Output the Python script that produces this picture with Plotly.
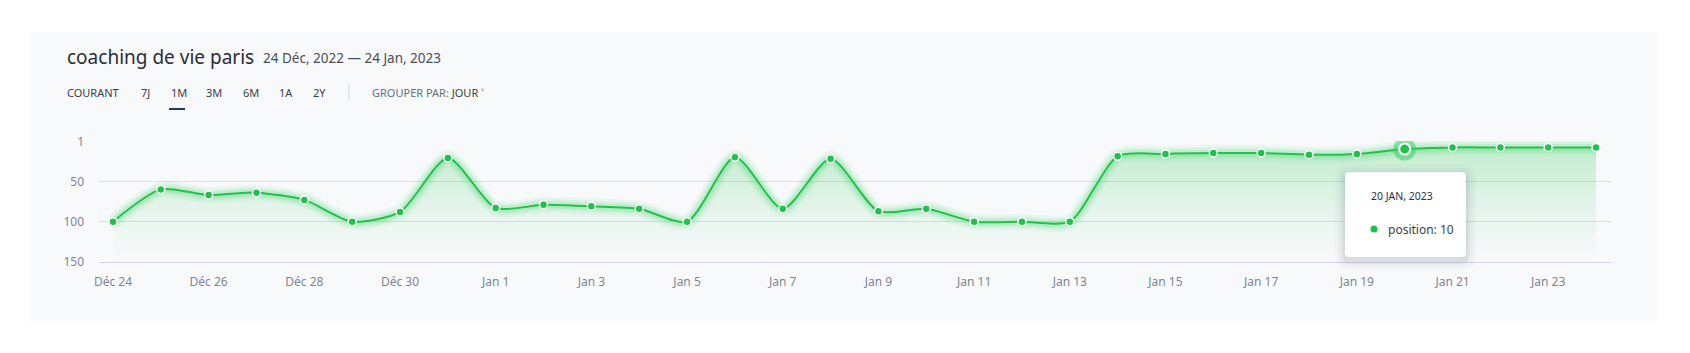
import plotly.graph_objects as go

# ---------------- data ----------------
dates = ["2022-12-24", "2022-12-25", "2022-12-26", "2022-12-27", "2022-12-28", "2022-12-29",
         "2022-12-30", "2022-12-31", "2023-01-01", "2023-01-02", "2023-01-03", "2023-01-04",
         "2023-01-05", "2023-01-06", "2023-01-07", "2023-01-08", "2023-01-09", "2023-01-10",
         "2023-01-11", "2023-01-12", "2023-01-13", "2023-01-14", "2023-01-15", "2023-01-16",
         "2023-01-17", "2023-01-18", "2023-01-19", "2023-01-20", "2023-01-21", "2023-01-22",
         "2023-01-23", "2023-01-24"]
positions = [100, 60, 67, 64, 73, 100, 88, 21,
             83, 79, 81, 84, 100, 20, 84, 22, 87, 84, 100, 100, 100,
             19, 16, 15, 15, 17, 16, 10, 8, 8, 8, 8]
tick_dates = ["2022-12-24", "2022-12-26", "2022-12-28", "2022-12-30", "2023-01-01", "2023-01-03",
              "2023-01-05", "2023-01-07", "2023-01-09", "2023-01-11", "2023-01-13", "2023-01-15",
              "2023-01-17", "2023-01-19", "2023-01-21", "2023-01-23"]
tick_labels = ["Déc 24", "Déc 26", "Déc 28", "Déc 30", "Jan 1", "Jan 3", "Jan 5", "Jan 7",
               "Jan 9", "Jan 11", "Jan 13", "Jan 15", "Jan 17", "Jan 19", "Jan 21", "Jan 23"]
y_ticks = [1, 50, 100, 150]
y_tick_labels = ["1", "50", "100", "150"]
highlight_date = "2023-01-20"
highlight_value = 10
title = "coaching de vie paris"
date_range_text = "24 Déc, 2022 — 24 Jan, 2023"
buttons = ["COURANT", "7J", "1M", "3M", "6M", "1A", "2Y"]

# ---------------- geometry / style ----------------
W, H = 1690, 353
PL, PR, PT, PB = 99, 1611, 141, 262
FONT = "Noto Sans"
GREEN = "#1fc34b"
SMOOTH = 0.7


def px(x):
    return (x - PL) / (PR - PL)


def py(y):
    return (PB - y) / (PB - PT)


fig = go.Figure()

baseline = [150] * len(dates)
fig.add_trace(go.Scatter(x=dates, y=baseline, mode="lines", line=dict(width=0),
                         hoverinfo="skip", showlegend=False))
fig.add_trace(go.Scatter(
    x=dates, y=positions, mode="lines", line=dict(width=0, shape="spline", smoothing=SMOOTH),
    fill="tonexty",
    fillgradient=dict(type="vertical", start=0, stop=150,
                      colorscale=[[0, "rgba(40,200,80,0.28)"], [0.6, "rgba(40,200,80,0.08)"],
                                  [1, "rgba(40,200,80,0.0)"]]),
    hoverinfo="skip", showlegend=False))

for w, a in [(16, 0.07), (11, 0.10), (7, 0.15)]:
    fig.add_trace(go.Scatter(x=dates, y=positions, mode="lines",
                             line=dict(width=w, color=f"rgba(60,210,100,{a})", shape="spline", smoothing=SMOOTH),
                             hoverinfo="skip", showlegend=False))

fig.add_trace(go.Scatter(x=dates, y=positions, mode="lines+markers",
                         line=dict(width=2, color=GREEN, shape="spline", smoothing=SMOOTH),
                         marker=dict(size=8, color=GREEN, line=dict(width=1.5, color="white")),
                         hoverinfo="skip", showlegend=False))

# highlighted point
fig.add_trace(go.Scatter(x=[highlight_date], y=[highlight_value], mode="markers",
                         marker=dict(size=23, color="rgba(60,205,100,0.55)", line=dict(width=0)),
                         hoverinfo="skip", showlegend=False))
fig.add_trace(go.Scatter(x=[highlight_date], y=[highlight_value], mode="markers",
                         marker=dict(size=11, color=GREEN, line=dict(width=2, color="white")),
                         hoverinfo="skip", showlegend=False))

shapes = []
# card background
shapes.append(dict(type="rect", xref="paper", yref="paper", x0=px(30), x1=px(1657),
                   y0=py(321), y1=py(32), fillcolor="#f8f9fb", line=dict(width=0), layer="below"))
# tab underline
shapes.append(dict(type="rect", xref="paper", yref="paper", x0=px(169), x1=px(185),
                   y0=py(110), y1=py(108), fillcolor="#1c3a6e", line=dict(width=0)))
# divider
shapes.append(dict(type="line", xref="paper", yref="paper", x0=px(349), x1=px(349),
                   y0=py(101), y1=py(83), line=dict(color="#d5d9e0", width=1)))


# tooltip shadow + box
def rounded(x0, y0, x1, y1, r):
    X0, X1 = px(x0), px(x1)
    Y0, Y1 = py(y1), py(y0)
    rx = r / (PR - PL)
    ry = r / (PB - PT)
    return (f"M {X0+rx},{Y0} L {X1-rx},{Y0} Q {X1},{Y0} {X1},{Y0+ry} L {X1},{Y1-ry} "
            f"Q {X1},{Y1} {X1-rx},{Y1} L {X0+rx},{Y1} Q {X0},{Y1} {X0},{Y1-ry} "
            f"L {X0},{Y0+ry} Q {X0},{Y0} {X0+rx},{Y0} Z")


for g, a in [(10, 0.025), (7, 0.03), (4, 0.04), (2, 0.05)]:
    shapes.append(dict(type="path", xref="paper", yref="paper",
                       path=rounded(1345 - g, 172 - g + 3, 1466 + g, 257 + g + 3, 4 + g),
                       fillcolor=f"rgba(40,50,80,{a})", line=dict(width=0)))
shapes.append(dict(type="path", xref="paper", yref="paper", path=rounded(1345, 172, 1466, 257, 4),
                   fillcolor="white", line=dict(width=0)))
shapes.append(dict(type="circle", xref="paper", yref="paper", x0=px(1370.5), x1=px(1377.5),
                   y0=py(232.5), y1=py(225.5), fillcolor=GREEN, line=dict(width=0)))

annotations = []
annotations.append(dict(xref="paper", yref="paper", x=px(65), y=py(57), xanchor="left", yanchor="middle",
                        text=title, showarrow=False, font=dict(family=FONT, size=19, color="#2a2e35")))
annotations.append(dict(xref="paper", yref="paper", x=px(261), y=py(58), xanchor="left", yanchor="middle",
                        text=date_range_text, showarrow=False, font=dict(family=FONT, size=13.5, color="#4a4f57")))
btn_x = [65, 139, 169, 204, 241, 277, 311]
for b, bx in zip(buttons, btn_x):
    annotations.append(dict(xref="paper", yref="paper", x=px(bx), y=py(92), xanchor="left", yanchor="middle",
                            text=b, showarrow=False, font=dict(family=FONT, size=11, color="#3a3f47")))
annotations.append(dict(xref="paper", yref="paper", x=px(370), y=py(92), xanchor="left", yanchor="middle",
                        text="<span style='color:#66717f'>GROUPER PAR:</span> JOUR ˅", showarrow=False,
                        font=dict(family=FONT, size=11, color="#3a3f47")))
annotations.append(dict(xref="paper", yref="paper", x=px(1369), y=py(196), xanchor="left", yanchor="middle",
                        text="20 JAN, 2023", showarrow=False, font=dict(family=FONT, size=10.5, color="#2f333a")))
annotations.append(dict(xref="paper", yref="paper", x=px(1386), y=py(229.5), xanchor="left", yanchor="middle",
                        text="position: 10", showarrow=False, font=dict(family=FONT, size=12, color="#3c4149")))

fig.update_layout(
    width=W, height=H,
    margin=dict(l=PL, r=W - PR, t=PT, b=H - PB),
    paper_bgcolor="white", plot_bgcolor="rgba(0,0,0,0)",
    shapes=shapes, annotations=annotations,
    font=dict(family=FONT),
    hovermode=False,
)
fig.update_xaxes(type="date", range=["2022-12-23 17:00", "2023-01-24 07:30"],
                 tickvals=tick_dates, ticktext=tick_labels, showgrid=False, zeroline=False,
                 showline=True, linecolor="#d3d7e3", linewidth=1, ticks="",
                 ticklabelstandoff=9, tickfont=dict(family=FONT, size=12, color="#7d8794"))
fig.update_yaxes(range=[150, 0], tickvals=y_ticks, ticktext=y_tick_labels, showgrid=True,
                 gridcolor="#dcdfe5", gridwidth=1, zeroline=False, showline=False, ticks="",
                 ticklabelstandoff=14, tickfont=dict(family=FONT, size=12, color="#7d8794"))

fig.write_html("out.html")
